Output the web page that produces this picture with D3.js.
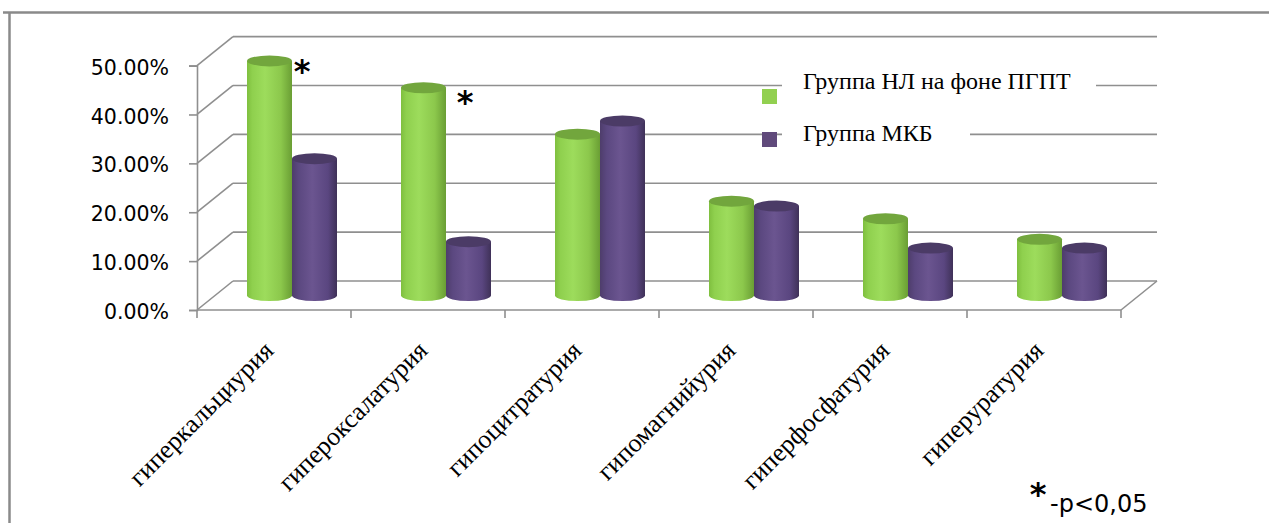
<!DOCTYPE html>
<html>
<head>
<meta charset="utf-8">
<script src="https://cdn.jsdelivr.net/npm/d3@7"></script>
<style>
  html, body { margin: 0; padding: 0; background: #fff; }
  svg { display: block; }
</style>
</head>
<body>
<svg id="chart" width="1269" height="523"></svg>
<script>
// Categories (urine metabolic disorders) and the share of patients per group
const categories = ["гиперкальциурия", "гипероксалатурия", "гипоцитратурия", "гипомагнийурия", "гиперфосфатурия", "гиперуратурия"];
const seriesNames = ["Группа НЛ на фоне ПГПТ", "Группа МКБ"];
const groupNL = [0.48, 0.425, 0.33, 0.193, 0.157, 0.115];
const groupMKB = [0.28, 0.11, 0.357, 0.183, 0.097, 0.097];
const yTicks = [0, 0.1, 0.2, 0.3, 0.4, 0.5];
const significant = [true, true, false, false, false, false];
const footnote = "-p<0,05";

const svg = d3.select("#chart");

// Oblique projection: the back wall is shifted right and up from the front plane
const depth = { dx: 36, dy: -29 };
const x0 = d3.scaleBand().domain(categories).range([197, 1121]).paddingInner(0).paddingOuter(0);
const yFront = d3.scaleLinear().domain([0, 0.5]).range([310, 65.6]);
const yBack = v => yFront(v) + depth.dy;
const xBack = x => x + depth.dx;
const midDx = depth.dx / 2, midDy = depth.dy / 2;
const yMid = v => yFront(v) + midDy;

const gridColor = "#8f8f8f";

// Outer frame (top and left edges)
svg.append("line").attr("x1", 3).attr("x2", 1269).attr("y1", 12.5).attr("y2", 12.5)
  .attr("stroke", "#8a8a8a").attr("stroke-width", 2.5);
svg.append("line").attr("x1", 9.5).attr("x2", 9.5).attr("y1", 12).attr("y2", 523)
  .attr("stroke", "#8a8a8a").attr("stroke-width", 2.5);

const walls = svg.append("g").attr("fill", "none").attr("stroke", gridColor).attr("stroke-width", 1.6);

// Back wall gridlines and left side wall diagonals
yTicks.forEach(v => {
  walls.append("line")
    .attr("x1", xBack(x0.range()[0])).attr("x2", xBack(x0.range()[1]))
    .attr("y1", yBack(v)).attr("y2", yBack(v));
  walls.append("line")
    .attr("x1", x0.range()[0]).attr("y1", yFront(v))
    .attr("x2", xBack(x0.range()[0])).attr("y2", yBack(v));
});

// Floor front edge and right side edge
walls.append("line").attr("x1", x0.range()[0]).attr("x2", x0.range()[1])
  .attr("y1", yFront(0)).attr("y2", yFront(0));
walls.append("line").attr("x1", x0.range()[1]).attr("y1", yFront(0))
  .attr("x2", xBack(x0.range()[1])).attr("y2", yBack(0));

// Vertical value axis on the front plane
const yAxis = d3.axisLeft(yFront).tickValues(yTicks).tickFormat(d3.format(".2%")).tickSize(8).tickPadding(20);
const yAxisG = svg.append("g").attr("transform", `translate(${x0.range()[0]},0)`).call(yAxis);
yAxisG.select(".domain").attr("stroke", gridColor).attr("stroke-width", 1.6);
yAxisG.selectAll(".tick line").attr("stroke", gridColor).attr("stroke-width", 1.6);
yAxisG.selectAll(".tick text")
  .attr("font-family", "'DejaVu Sans', Verdana, sans-serif")
  .attr("font-size", 20.5).attr("fill", "#000").attr("dy", "0.42em");

// Category tick marks along the front floor edge
const catTicks = d3.range(categories.length + 1).map(i => x0.range()[0] + i * x0.step());
svg.append("g").selectAll("line").data(catTicks).join("line")
  .attr("x1", d => d).attr("x2", d => d)
  .attr("y1", yFront(0)).attr("y2", yFront(0) + 8)
  .attr("stroke", gridColor).attr("stroke-width", 1.6);

// Gradients for cylinder shading
const defs = svg.append("defs");
function cylGradient(id, stops) {
  const g = defs.append("linearGradient").attr("id", id).attr("x1", "0%").attr("x2", "100%").attr("y1", "0%").attr("y2", "0%");
  stops.forEach(([o, c]) => g.append("stop").attr("offset", o).attr("stop-color", c));
}
cylGradient("gradGreen", [["0%", "#7fbf3f"], ["12%", "#8fd04e"], ["40%", "#9ddc5c"], ["75%", "#8cc84c"], ["100%", "#6a9e34"]]);
cylGradient("gradPurple", [["0%", "#4e3d6b"], ["15%", "#5b4880"], ["45%", "#6b5590"], ["80%", "#5a4680"], ["100%", "#3f3158"]]);
const seriesFill = ["url(#gradGreen)", "url(#gradPurple)"];
const seriesTop = ["#72a63d", "#4b3b66"];
const legendColors = ["#92d050", "#604a7b"];

// Cylinders placed in the middle of the depth
const groupWidth = 90;
const x1 = d3.scaleBand().domain(seriesNames).range([0, groupWidth]).padding(0);
const ry = 5.5;
const data = categories.map((c, i) => ({ cat: c, values: [groupNL[i], groupMKB[i]] }));

const bars = svg.append("g");
data.forEach(d => {
  const gx = x0(d.cat) + x0.bandwidth() / 2 + midDx - groupWidth / 2;
  d.values.forEach((v, si) => {
    const left = gx + x1(seriesNames[si]);
    const w = x1.bandwidth();
    const rx = w / 2;
    const yb = yMid(0), yt = yMid(v);
    bars.append("path")
      .attr("d", `M${left},${yt} L${left},${yb} A${rx},${ry} 0 0 0 ${left + w},${yb} L${left + w},${yt} Z`)
      .attr("fill", seriesFill[si]);
    bars.append("ellipse")
      .attr("cx", left + rx).attr("cy", yt).attr("rx", rx).attr("ry", ry)
      .attr("fill", seriesTop[si]);
  });
});

// Significance markers next to the first series
const starFont = "'DejaVu Sans', Verdana, sans-serif";
data.forEach((d, i) => {
  if (!significant[i]) return;
  const right = x0(d.cat) + x0.bandwidth() / 2 + midDx;
  const yt = yMid(d.values[0]);
  svg.append("text")
    .attr("x", right + (i === 0 ? 10 : 19))
    .attr("y", yt + (i === 0 ? 21 : 25))
    .attr("text-anchor", "middle")
    .attr("font-family", starFont).attr("font-weight", "bold").attr("font-size", 32)
    .text("*");
});

// Category labels, rotated
svg.append("g").selectAll("text").data(categories).join("text")
  .attr("transform", d => `translate(${x0(d) + x0.bandwidth() / 2 + 1},${352}) rotate(-45)`)
  .attr("text-anchor", "end")
  .attr("font-family", "'Liberation Serif', 'Times New Roman', serif")
  .attr("font-size", 26).attr("fill", "#000")
  .text(d => d);

// Legend with white backing over the gridlines
const legend = svg.append("g");
const legendItems = [
  { name: seriesNames[0], y: 89, sqY: 89, cover: [782, 1096] },
  { name: seriesNames[1], y: 141, sqY: 132, cover: [782, 970] }
];
legendItems.forEach((it, i) => {
  legend.append("rect").attr("x", it.cover[0]).attr("y", it.y - 24).attr("width", it.cover[1] - it.cover[0]).attr("height", 32).attr("fill", "#fff");
  legend.append("rect").attr("x", 762).attr("y", it.sqY).attr("width", 15).attr("height", 15).attr("fill", legendColors[i]);
  legend.append("text").attr("x", 803).attr("y", it.y)
    .attr("font-family", "'Liberation Serif', 'Times New Roman', serif")
    .attr("font-size", 24).attr("fill", "#000").text(it.name);
});

// Footnote
svg.append("text").attr("x", 1038).attr("y", 505).attr("text-anchor", "middle")
  .attr("font-family", starFont).attr("font-weight", "bold").attr("font-size", 32).text("*");
svg.append("text").attr("x", 1050).attr("y", 512)
  .attr("font-family", starFont).attr("font-size", 24).attr("fill", "#000").text(footnote);
</script>
</body>
</html>
